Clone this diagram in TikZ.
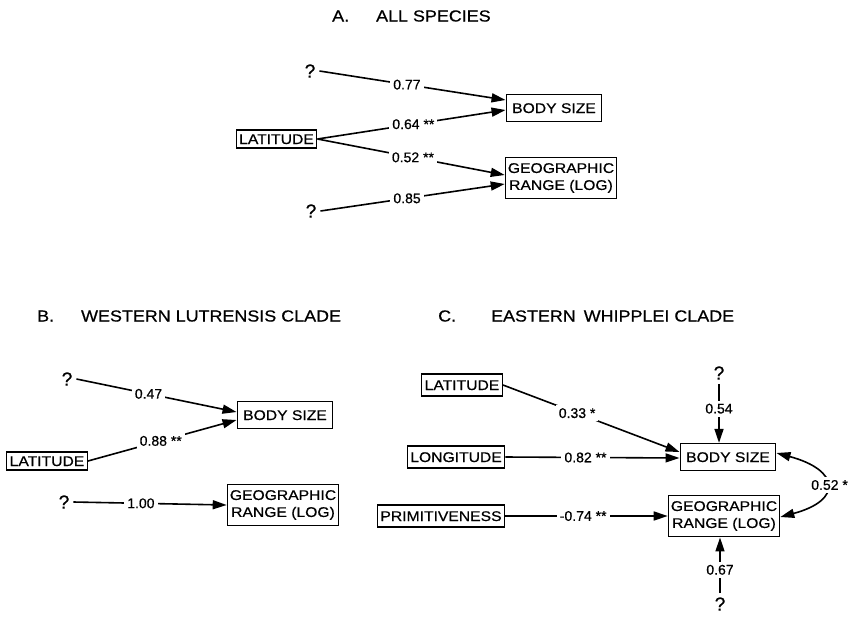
\documentclass[tikz,border=0pt]{standalone}
\usepackage{fontspec}
\setmainfont[FakeBold=0.6]{Liberation Sans}
\newfontfamily\capfont[FakeStretch=1.12,FakeBold=0.6]{Liberation Sans}
\usetikzlibrary{arrows.meta}
\begin{document}
\begin{tikzpicture}[x=1pt,y=-1pt,
  every node/.style={font=\fontsize{14}{17}\selectfont},
  box/.style={draw,line width=1.3pt,inner xsep=3pt,inner ysep=6pt,text height=10pt,text depth=0pt,
    font=\capfont\fontsize{14}{17}\selectfont},
  tbox/.style={box,inner ysep=4pt},
  wbox/.style={box,inner xsep=6pt,inner ysep=8.5pt},
  gbox/.style={draw,line width=1.3pt,inner xsep=2.5pt,inner ysep=6pt,align=center,
    font=\capfont\fontsize{14}{17}\selectfont},
  qm/.style={font=\fontsize{19}{19}\selectfont,inner sep=4pt},
  lbl/.style={fill=white,inner sep=3pt},
  ttl/.style={anchor=west,inner sep=0pt,font=\capfont\fontsize{16}{18}\selectfont},
  con/.style={line width=1.6pt,-{Triangle[length=14pt,width=9pt]}},
  dcon/.style={line width=1.6pt,{Triangle[length=14pt,width=9pt]}-{Triangle[length=14pt,width=9pt]}}]
\useasboundingbox (0,0) rectangle (853,616);
% Panel A
\node[ttl] (tA) at (332,16) {A.\hspace{27pt}ALL SPECIES};
\node[qm] (qA1) at (310,71) {?};
\node[qm] (qA2) at (311,211) {?};
\node[tbox] (latA) at (276.5,139) {LATITUDE};
\node[wbox] (bsA) at (554,108) {BODY SIZE};
\node[gbox] (grA) at (561,178) {GEOGRAPHIC\\RANGE (LOG)};
\draw[con] (qA1.east) -- node[lbl,pos=0.47] {0.77} ([yshift=8pt]bsA.west);
\draw[con] (latA.east) -- node[lbl,pos=0.51] {0.64 **} ([yshift=-2pt]bsA.west);
\draw[con] (latA.east) -- node[lbl,pos=0.51] {0.52 **} ([yshift=3pt]grA.west);
\draw[con] (qA2.east) -- node[lbl,pos=0.47] {0.85} ([yshift=-6pt]grA.west);
% Panel B
\node[ttl] (tB) at (37,316) {B.\hspace{27pt}WESTERN LUTRENSIS CLADE};
\node[qm] (qB1) at (67,379) {?};
\node[qm] (qB2) at (64,502) {?};
\node[tbox] (latB) at (47,461) {LATITUDE};
\node[wbox] (bsB) at (285,415) {BODY SIZE};
\node[gbox] (grB) at (283,505) {GEOGRAPHIC\\RANGE (LOG)};
\draw[con] (qB1.east) -- node[lbl,pos=0.45] {0.47} ([yshift=3pt]bsB.west);
\draw[con] (latB.east) -- node[lbl,pos=0.49] {0.88 **} ([yshift=-5pt]bsB.west);
\draw[con] (qB2.east) -- node[lbl,pos=0.44] {1.00} (grB.west);
% Panel C
\node[ttl] (tC) at (438,316) {C.\hspace{35pt}EASTERN\hspace{8pt}WHIPPLEI CLADE};
\node[box] (latC) at (462,385) {LATITUDE};
\node[box] (lonC) at (456,457) {LONGITUDE};
\node[box] (priC) at (441,516) {PRIMITIVENESS};
\node[wbox] (bsC) at (728,457) {BODY SIZE};
\node[gbox] (grC) at (724,516) {GEOGRAPHIC\\RANGE (LOG)};
\node[qm] (qC1) at (719,373) {?};
\node[qm] (qC2) at (720,604) {?};
\draw[con] (latC.east) -- node[lbl,pos=0.42] {0.33 *} ([yshift=5pt]bsC.west);
\draw[con] (lonC.east) -- node[lbl,pos=0.46] {0.82 **} ([yshift=-1pt]bsC.west);
\draw[con] (priC.east) -- node[lbl,pos=0.48] {-0.74 **} (grC.west);
\draw[con] (qC1.south) -- node[lbl,pos=0.42] {0.54} ([xshift=-9pt]bsC.north);
\draw[con] (qC2.north) -- node[lbl,pos=0.42] {0.67} ([xshift=-4pt]grC.south);
\draw[dcon] ([yshift=4pt]bsC.east) to[out=-15,in=15,looseness=2.6] node[lbl,midway,xshift=4pt] {0.52 *} ([yshift=-1pt]grC.east);
\end{tikzpicture}
\end{document}
